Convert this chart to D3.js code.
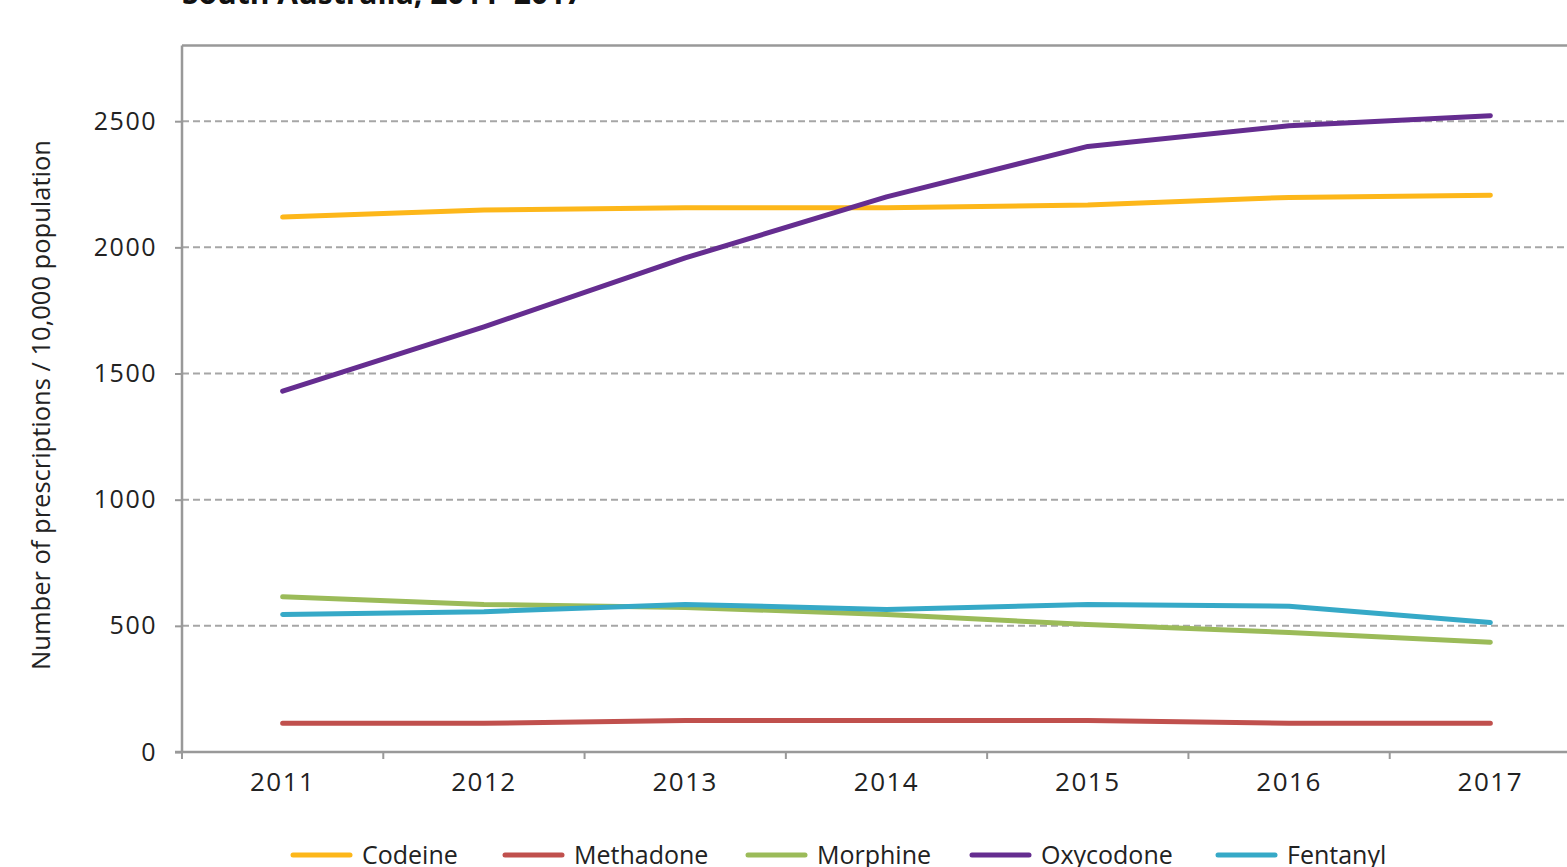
<!DOCTYPE html>
<html>
<head>
<meta charset="utf-8">
<script src="https://cdn.jsdelivr.net/npm/d3@7/dist/d3.min.js"></script>
<style>
  html, body { margin: 0; padding: 0; background: #fff; }
  svg { display: block; font-family: "Open Sans", "Noto Sans", sans-serif; }
</style>
</head>
<body>
<svg id="chart" width="1567" height="867"></svg>
<script>
// Opioid prescriptions per 10,000 population, South Australia
const years = ["2011", "2012", "2013", "2014", "2015", "2016", "2017"];
const codeine   = [2120, 2148, 2157, 2157, 2168, 2198, 2207];
const methadone = [114, 114, 125, 125, 125, 114, 114];
const morphine  = [615, 585, 573, 545, 505, 474, 435];
const oxycodone = [1430, 1685, 1958, 2200, 2400, 2482, 2522];
const fentanyl  = [545, 556, 585, 565, 585, 578, 513];
const yTicks = [0, 500, 1000, 1500, 2000, 2500];

const seriesNames = ["Codeine", "Methadone", "Morphine", "Oxycodone", "Fentanyl"];
const seriesValues = [codeine, methadone, morphine, oxycodone, fentanyl];
const seriesColors = ["#FDB71A", "#C0504D", "#9BBB59", "#652D90", "#36A9C7"];

const svg = d3.select("#chart");
const plotLeft = 182, plotTop = 45.5, plotBottom = 752, plotRight = 1591;

const x = d3.scaleBand().domain(years).range([plotLeft, plotRight]);
const y = d3.scaleLinear().domain([0, 2800]).range([plotBottom, plotTop]);

// Title (top line of the figure caption)
svg.append("text")
  .attr("x", 182).attr("y", 4)
  .attr("font-size", 30).attr("font-weight", "bold").attr("fill", "#111")
  .text("South Australia, 2011–2017");

// Horizontal dashed gridlines
svg.append("g").selectAll("line")
  .data(yTicks.filter(d => d > 0))
  .join("line")
  .attr("x1", plotLeft).attr("x2", 1567)
  .attr("y1", d => y(d)).attr("y2", d => y(d))
  .attr("stroke", "#A6A6A6").attr("stroke-width", 2)
  .attr("stroke-dasharray", "7,4");

// Top frame line
svg.append("line")
  .attr("x1", plotLeft).attr("x2", 1567).attr("y1", plotTop).attr("y2", plotTop)
  .attr("stroke", "#999").attr("stroke-width", 2.5);

// Y axis
const yAxis = svg.append("g")
  .attr("transform", `translate(${plotLeft},0)`)
  .call(d3.axisLeft(y).tickValues(yTicks).tickFormat(d3.format("d"))
    .tickSize(7).tickPadding(18).tickSizeOuter(0));
yAxis.select(".domain").attr("stroke", "#999").attr("stroke-width", 2.5)
  .attr("d", `M0,${plotTop}V${plotBottom}`);
yAxis.selectAll(".tick line").attr("stroke", "#999").attr("stroke-width", 2);
yAxis.selectAll(".tick text")
  .attr("font-size", 25).attr("fill", "#222")
  .attr("font-family", "'Open Sans', sans-serif").attr("letter-spacing", 1.5);

// X axis: ticks on category boundaries, labels at band centres
const xAxisG = svg.append("g").attr("transform", `translate(0,${plotBottom})`);
xAxisG.append("line")
  .attr("x1", plotLeft - 7).attr("x2", 1567).attr("y1", 0).attr("y2", 0)
  .attr("stroke", "#999").attr("stroke-width", 2.5);
xAxisG.selectAll("line.tick")
  .data(years)
  .join("line").attr("class", "tick")
  .attr("x1", d => x(d)).attr("x2", d => x(d))
  .attr("y1", 0).attr("y2", 7)
  .attr("stroke", "#999").attr("stroke-width", 2);
xAxisG.selectAll("text")
  .data(years)
  .join("text")
  .attr("x", d => x(d) + x.bandwidth() / 2)
  .attr("y", 39)
  .attr("text-anchor", "middle")
  .attr("font-size", 26).attr("fill", "#222").attr("letter-spacing", 1.5)
  .text(d => d);

// Y axis title
svg.append("text")
  .attr("transform", "translate(50,405) rotate(-90)")
  .attr("text-anchor", "middle")
  .attr("font-size", 25.5).attr("fill", "#222")
  .text("Number of prescriptions / 10,000 population");

// Series lines
const line = d3.line()
  .x((d, i) => x(years[i]) + x.bandwidth() / 2)
  .y(d => y(d));

svg.append("g").selectAll("path")
  .data(seriesValues)
  .join("path")
  .attr("d", d => line(d))
  .attr("fill", "none")
  .attr("stroke", (d, i) => seriesColors[i])
  .attr("stroke-width", 5)
  .attr("stroke-linecap", "round")
  .attr("stroke-linejoin", "round");

// Legend
const legendX = [293, 505, 748, 972, 1218];
const legend = svg.append("g").selectAll("g")
  .data(seriesNames)
  .join("g")
  .attr("transform", (d, i) => `translate(${legendX[i]},855)`);
legend.append("line")
  .attr("x1", 0).attr("x2", 57).attr("y1", 0).attr("y2", 0)
  .attr("stroke", (d, i) => seriesColors[i])
  .attr("stroke-width", 5).attr("stroke-linecap", "round");
legend.append("text")
  .attr("x", 69).attr("y", 9)
  .attr("font-size", 25).attr("fill", "#222")
  .text(d => d);
</script>
</body>
</html>
